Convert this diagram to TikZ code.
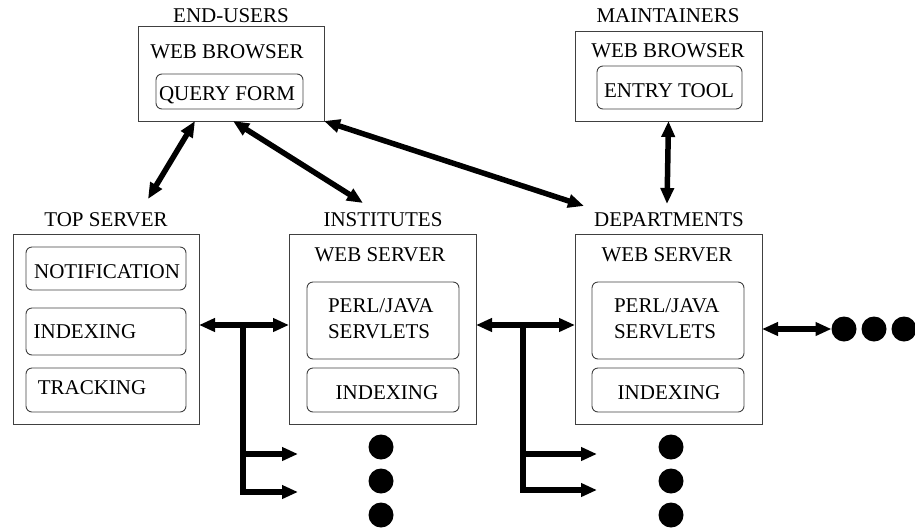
\documentclass[tikz,border=0pt]{standalone}
\usepackage{fontspec}
\setmainfont{Liberation Serif}
\usetikzlibrary{arrows.meta,calc}
\begin{document}
\begin{tikzpicture}[x=1pt,y=-1pt,
  every node/.style={font=\fontsize{21}{25.5}\selectfont, inner sep=0pt, outer sep=0pt},
  outer/.style={draw=black!75, line width=0.9pt, rectangle},
  inner/.style={draw=black!75, line width=0.9pt, rectangle, rounded corners=6pt},
  lbl/.style={anchor=base},
  lblw/.style={anchor=base west, align=left},
  conn/.style={line width=5.5pt},
  tip/.style={-{Triangle[length=16pt,width=13pt]}},
  tips/.style={{Triangle[length=16pt,width=13pt]}-{Triangle[length=16pt,width=13pt]}},
  dot/.style={circle, fill=black, minimum size=25pt}
]
\useasboundingbox (0,0) rectangle (915,531);

% ---- End-users
\node[outer, minimum width=186pt, minimum height=95pt] (eu) at (231,73.5) {};
\node[lbl] (eulbl) at (231,22) {END-USERS};
\node[lbl] (euweb) at (227,58) {WEB BROWSER};
\node[inner, minimum width=147pt, minimum height=35pt] (qf) at (229.5,91.5) {};
\node[lbl] (qft) at (227,100) {QUERY FORM};

% ---- Maintainers
\node[outer, minimum width=187pt, minimum height=90pt] (mt) at (668.5,76) {};
\node[lbl] (mtlbl) at (668,22) {MAINTAINERS};
\node[lbl] (mtweb) at (668,57) {WEB BROWSER};
\node[inner, minimum width=145pt, minimum height=43pt] (et) at (669.5,87.5) {};
\node[lbl] (ett) at (669,97) {ENTRY TOOL};

% ---- Top server
\node[outer, minimum width=186pt, minimum height=190pt] (ts) at (106,329) {};
\node[lbl] (tslbl) at (106,226) {TOP SERVER};
\node[inner, minimum width=160pt, minimum height=43pt] (nt) at (106,268.5) {};
\node[lbl] (ntt) at (107,278) {NOTIFICATION};
\node[inner, minimum width=160pt, minimum height=47pt] (ix1) at (106,331.5) {};
\node[lbl] (ix1t) at (85,338) {INDEXING};
\node[inner, minimum width=160pt, minimum height=44pt] (tr) at (106,390) {};
\node[lbl] (trt) at (92,394) {TRACKING};

% ---- Institutes
\node[outer, minimum width=187pt, minimum height=190pt] (in) at (382.5,329) {};
\node[lbl] (inlbl) at (383,226) {INSTITUTES};
\node[lbl] (inweb) at (380,261) {WEB SERVER};
\node[inner, minimum width=152pt, minimum height=77pt] (pj1) at (383,320.5) {};
\node[lblw] (pj1t) at (328,338) {PERL/JAVA\\SERVLETS};
\node[inner, minimum width=152pt, minimum height=44pt] (ix2) at (383,390) {};
\node[lbl] (ix2t) at (387,399) {INDEXING};

% ---- Departments
\node[outer, minimum width=187pt, minimum height=190pt] (dp) at (668.5,329) {};
\node[lbl] (dplbl) at (669,226) {DEPARTMENTS};
\node[lbl] (dpweb) at (667,261) {WEB SERVER};
\node[inner, minimum width=152pt, minimum height=77pt] (pj2) at (668,320.5) {};
\node[lblw] (pj2t) at (614,338) {PERL/JAVA\\SERVLETS};
\node[inner, minimum width=152pt, minimum height=44pt] (ix3) at (668,390) {};
\node[lbl] (ix3t) at (669,399) {INDEXING};

% ---- dots
\node[dot] (d1a) at (381,447) {};
\node[dot] (d1b) at (381,481) {};
\node[dot] (d1c) at (381,515) {};
\node[dot] (d2a) at (671,447) {};
\node[dot] (d2b) at (671,481) {};
\node[dot] (d2c) at (671,515) {};
\node[dot] (d3a) at (844,329) {};
\node[dot] (d3b) at (874,329) {};
\node[dot] (d3c) at (904,329) {};

% ---- coordinates for connector ends
\coordinate (euA) at ($(eu.south west)+(57,0)$);
\coordinate (euB) at ($(eu.south west)+(95,0)$);
\coordinate (tsTop) at (148,199);
\coordinate (inTop) at (363,203);
\coordinate (dpTop) at (584,206);
\coordinate (mtBot) at (mt.south);
\coordinate (dpUp) at (667,204);
\coordinate (j1) at (243,325);
\coordinate (j2) at (523,325);
\coordinate (b1a) at (298,454);
\coordinate (b1b) at (298,492);
\coordinate (b2a) at (597,454);
\coordinate (b2b) at (597,490);

% ---- connectors
\draw[conn,tips] (euA) -- (tsTop);
\draw[conn,tips] (euB) -- (inTop);
\draw[conn,tips] (eu.south east) -- (dpTop);
\draw[conn,tips] (mtBot) -- (dpUp);

\draw[conn,tips] ($(ts.east)+(0,-4)$) -- ($(in.west)+(0,-4)$);
\draw[conn,tips] ($(in.east)+(0,-4)$) -- ($(dp.west)+(0,-4)$);
\draw[conn,tips] (dp.east) -- (d3a.west);

\draw[conn,tip] (j1) |- (b1b);
\draw[conn,tip] (j1 |- b1a) -- (b1a);
\draw[conn,tip] (j2) |- (b2b);
\draw[conn,tip] (j2 |- b2a) -- (b2a);
\end{tikzpicture}
\end{document}
